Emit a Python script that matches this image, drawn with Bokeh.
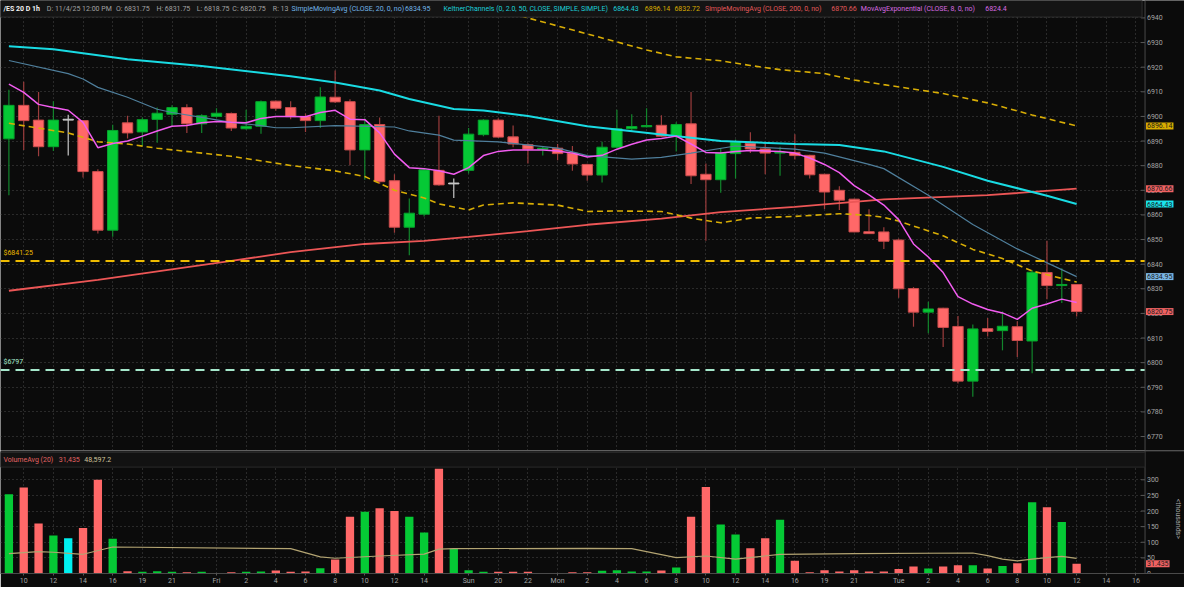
import numpy as np
from bokeh.plotting import figure
from bokeh.layouts import column
from bokeh.models import (ColumnDataSource, FixedTicker, Range1d, Label,
                          BoxAnnotation, Span)
from bokeh.core.properties import value
from bokeh.embed import file_html
from bokeh.resources import INLINE

# ------------------------------------------------------------------ data
tick_bars = [1, 3, 5, 7, 9, 11, 14, 16, 18, 20, 22, 24, 26, 28, 31, 33, 35,
             37, 39, 41, 43, 45, 47, 49, 51, 53, 55, 57, 60, 62, 64, 66, 68,
             70, 72, 74, 76]
tick_labels = ["10", "12", "14", "16", "19", "21", "Fri", "2", "4", "6", "8",
               "10", "12", "14", "Sun", "20", "22", "Mon", "2", "4", "6", "8",
               "10", "12", "14", "16", "19", "21", "Tue", "2", "4", "6", "8",
               "10", "12", "14", "16"]
price_ticks = list(range(6770, 6941, 10))
volume_ticks = [0, 50, 100, 150, 200, 250, 300]

opens = [6890.9, 6904.5, 6898.5, 6887.7, 6898.5, 6898.3, 6877.6, 6853.8, 6897.4, 6893.7,
         6898.8, 6900.9, 6903.6, 6897.0, 6900.0, 6901.2, 6895.0, 6896.0, 6906.2, 6903.6,
         6900.0, 6898.3, 6907.8, 6906.0, 6886.4, 6896.7, 6873.9, 6855.0, 6860.3, 6878.1,
         6872.6, 6878.1, 6892.6, 6898.5, 6891.7, 6888.5, 6886.7, 6887.1, 6885.1, 6880.5,
         6876.2, 6887.5, 6895.0, 6895.8, 6896.4, 6892.0, 6897.0, 6876.5, 6874.3, 6884.9,
         6889.0, 6886.8, 6885.1, 6885.4, 6884.2, 6876.5, 6870.0, 6866.4, 6853.2, 6853.1,
         6849.8, 6830.1, 6820.5, 6822.1, 6814.7, 6792.5, 6813.8, 6813.0, 6814.6, 6808.8,
         6836.6, 6831.3, 6831.75]
highs = [6910.8, 6914.1, 6909.9, 6906.2, 6900.7, 6898.5, 6878.5, 6896.6, 6900.3, 6899.6,
         6903.6, 6904.5, 6904.9, 6900.9, 6903.3, 6901.6, 6902.7, 6906.5, 6906.5, 6906.2,
         6901.2, 6911.8, 6918.7, 6907.0, 6899.2, 6899.6, 6876.5, 6866.7, 6878.8, 6900.3,
         6874.8, 6895.3, 6898.9, 6899.3, 6896.3, 6889.1, 6888.0, 6888.8, 6888.0, 6880.8,
         6889.7, 6902.7, 6900.9, 6903.3, 6900.5, 6897.6, 6909.9, 6880.9, 6887.1, 6890.6,
         6893.6, 6889.3, 6887.7, 6892.8, 6884.4, 6876.7, 6871.6, 6866.6, 6862.3, 6855.0,
         6850.4, 6830.7, 6824.7, 6822.3, 6818.9, 6815.5, 6818.1, 6820.8, 6816.8, 6837.6,
         6849.5, 6838.3, 6831.75]
lows = [6868.0, 6886.4, 6883.8, 6886.0, 6884.1, 6875.2, 6852.5, 6851.1, 6891.0, 6888.0,
        6889.3, 6895.9, 6893.3, 6893.3, 6899.5, 6894.1, 6894.6, 6893.0, 6902.3, 6898.9,
        6893.7, 6895.3, 6905.5, 6880.2, 6874.3, 6872.6, 6852.8, 6843.6, 6859.4, 6871.8,
        6866.9, 6876.8, 6892.0, 6891.2, 6887.5, 6880.9, 6884.1, 6882.2, 6877.9, 6873.9,
        6873.2, 6887.0, 6893.7, 6895.5, 6891.7, 6885.8, 6872.6, 6849.5, 6869.0, 6874.8,
        6885.1, 6876.5, 6875.9, 6882.5, 6874.8, 6862.4, 6862.0, 6853.0, 6852.3, 6846.2,
        6826.4, 6814.6, 6811.9, 6806.4, 6791.5, 6786.2, 6810.6, 6805.0, 6802.3, 6795.7,
        6825.8, 6824.2, 6818.75]
closes = [6904.5, 6898.3, 6887.7, 6898.5, 6898.5, 6877.6, 6853.8, 6894.3, 6893.3, 6898.7,
          6901.3, 6903.6, 6897.0, 6900.3, 6901.3, 6895.3, 6896.0, 6906.0, 6903.3, 6899.9,
          6898.3, 6907.9, 6905.9, 6886.4, 6896.7, 6873.5, 6855.0, 6860.7, 6878.3, 6872.2,
          6872.6, 6892.8, 6898.5, 6891.6, 6888.8, 6886.7, 6887.1, 6884.9, 6880.7, 6876.2,
          6887.5, 6895.0, 6895.9, 6896.3, 6892.0, 6896.7, 6875.9, 6874.3, 6885.1, 6889.4,
          6886.8, 6885.1, 6885.5, 6884.1, 6876.3, 6869.3, 6866.0, 6853.1, 6852.4, 6849.3,
          6830.0, 6820.5, 6821.8, 6814.3, 6792.5, 6813.7, 6812.7, 6814.8, 6809.0, 6836.7,
          6831.3, 6831.75, 6820.75]

volume_k = [254, 275, 160, 122, 113, 146, 300, 111, 7.4, 5.3,
            7.4, 5.3, 4.2, 5.3, 2.0, 4.2, 5.3, 6.4, 9.5, 5.3,
            6.4, 17, 44.5, 182, 198, 209, 200, 182, 131, 335,
            79.5, 10.6, 5.3, 5.3, 5.3, 5.3, 2.0, 2.0, 4.2, 4.2,
            8.5, 10.6, 6.4, 6.4, 9.5, 19, 182, 277, 157, 125,
            80.6, 113, 172, 41, 4.2, 10.6, 6.4, 10.6, 6.4, 6.4,
            14.8, 22.3, 15.9, 22.3, 26.5, 26.5, 15.9, 24.4, 32.9, 228,
            212, 165, 31.435]
volume_dir = ["u", "d", "d", "u", "f", "d", "d", "u", "d", "u",
              "u", "u", "d", "u", "u", "d", "u", "u", "d", "d",
              "d", "u", "d", "d", "u", "d", "d", "u", "u", "d",
              "u", "u", "u", "d", "d", "d", "u", "d", "d", "d",
              "u", "u", "u", "u", "d", "u", "d", "d", "u", "u",
              "d", "d", "u", "d", "d", "d", "d", "d", "d", "d",
              "d", "d", "u", "d", "d", "u", "d", "u", "d", "u",
              "d", "u", "d"]

sma20_bars = [0, 4, 5, 6, 8, 10, 11, 13, 15, 17, 18, 19, 22, 26, 27, 29, 30, 33, 37, 39,
              42, 44, 46, 49, 53, 55, 58, 59, 62, 65, 68, 72]
sma20_vals = [6922.7, 6917.4, 6915.2, 6911.8, 6907.8, 6902.9, 6901.6, 6899.6, 6897.6, 6896.3,
              6895.4, 6895.4, 6896.3, 6895.7, 6894.1, 6892.4, 6890.4, 6889.7, 6887.1, 6884.1,
              6882.7, 6883.4, 6885.1, 6888.0, 6886.7, 6885.1, 6880.5, 6878.8, 6868.0, 6856.1,
              6846.2, 6834.95]
kc_mid_bars = [0, 3, 8, 13, 19, 22, 25, 27, 30, 32, 35, 39, 44, 48, 53, 56, 59, 63, 66, 70, 72]
kc_mid_vals = [6928.5, 6927.3, 6923.2, 6920.5, 6916.3, 6913.8, 6910.5, 6907.1, 6903.0, 6902.4,
               6900.2, 6896.0, 6892.7, 6890.0, 6888.8, 6888.4, 6885.8, 6879.5, 6873.9, 6867.8,
               6864.43]
kc_up_bars = [30, 31, 35, 39, 43, 45, 48, 50, 52, 55, 57, 59, 63, 66, 69, 72]
kc_up_vals = [6949.0, 6947.0, 6940.0, 6933.5, 6927.0, 6924.2, 6922.6, 6920.7, 6919.0, 6917.4,
              6914.8, 6912.9, 6909.3, 6905.5, 6900.6, 6896.14]
kc_lo_bars = [0, 4, 6, 8, 10, 15, 19, 22, 24, 26, 28, 29, 31, 32, 34, 37, 39, 41, 44, 46,
              48, 50, 53, 56, 58, 59, 60, 63, 65, 67, 69, 72]
kc_lo_vals = [6897.2, 6893.3, 6889.7, 6888.8, 6887.1, 6883.8, 6880.1, 6877.9, 6875.6, 6870.0,
              6866.9, 6864.5, 6862.0, 6864.0, 6864.9, 6864.0, 6861.4, 6861.6, 6861.4, 6858.7,
              6856.8, 6858.7, 6859.4, 6860.5, 6859.8, 6859.0, 6857.5, 6851.5, 6846.0, 6842.3,
              6837.2, 6832.72]
sma200_bars = [0, 6, 15, 19, 24, 28, 31, 35, 39, 44, 48, 53, 57, 59, 66, 72]
sma200_vals = [6829.2, 6833.6, 6841.3, 6844.9, 6848.2, 6849.5, 6851.1, 6853.4, 6856.0, 6858.5,
               6861.1, 6863.3, 6865.3, 6866.3, 6868.0, 6870.66]
ema8_vals = [6913.1, 6909.8, 6904.9, 6903.6, 6902.5, 6897.6, 6887.3, 6889.0, 6890.0, 6892.0,
             6894.1, 6896.0, 6896.3, 6897.4, 6897.9, 6897.6, 6897.4, 6899.2, 6900.0, 6900.0,
             6899.9, 6901.6, 6902.5, 6898.9, 6898.7, 6893.3, 6884.7, 6879.2, 6878.8, 6877.9,
             6876.5, 6879.2, 6884.1, 6885.8, 6886.4, 6886.4, 6886.4, 6886.0, 6885.1, 6883.5,
             6884.2, 6886.7, 6888.7, 6890.4, 6891.0, 6892.0, 6888.8, 6885.4, 6885.1, 6885.8,
             6886.2, 6886.0, 6885.8, 6885.1, 6883.1, 6880.5, 6877.2, 6871.9, 6868.1, 6864.0,
             6858.1, 6848.2, 6842.9, 6836.6, 6826.8, 6823.8, 6821.6, 6820.2, 6817.6, 6822.1,
             6823.8, 6825.8, 6824.4]
volavg_bars = [0, 2, 3, 5, 7, 19, 21, 22, 25, 28, 29, 30, 39, 42, 45, 47, 49, 52, 57, 65,
               66, 67, 68, 69, 70, 71, 72]
volavg_vals = [63.6, 70, 68, 61.5, 84.8, 79.5, 53, 48.8, 56, 62, 78, 79.5, 80.6, 79.5, 51, 56,
               46, 61.5, 63.6, 65.7, 57, 46, 40.3, 46, 51, 55, 48.6]

hline_levels = [6841.25, 6797]
hline_names = ["$6841.25", "$6797"]

# ------------------------------------------------------------------ layout helpers
W, MAIN_H, VOL_H = 1184, 450, 137
BG = "#0b0b0b"
GRID = "#4a4a4a"
AX_TXT = "#a4a4a4"
AX_LINE = "#4a4a4a"
FONT = "Roboto"
FS = "7px"

BAR_PX = 15.03          # reference pixels per bar
X0 = -0.566
XR = X0 + 1200 / BAR_PX  # the frame covers the whole width, price scale included


def bx(px):
    return X0 + px / BAR_PX


def py(px):
    return 6840 + (270.7 - px) / 2.528


def vy(px):
    return (591 - px) * 3.125


Y0, Y1 = py(462), py(0)
VMAX = vy(465)
AXIS_X = bx(1160)

UP, DN, FLAT = "#05c935", "#ff6868", "#c8c8c8"
UP_LINE, DN_LINE = "#07a22d", "#c84c4c"
UP_WICK, DN_WICK = "#12862c", "#9c3d3d"


def style_grid(fig, yticks):
    fig.xgrid.ticker = FixedTicker(ticks=tick_bars)
    fig.ygrid.ticker = FixedTicker(ticks=yticks)
    for g in (fig.xgrid, fig.ygrid):
        g.grid_line_color = GRID
        g.grid_line_dash = "1 3"
    # blank the price-scale strip on the right (drawn over the grid, under the glyphs)
    fig.add_layout(BoxAnnotation(left=AXIS_X, right=XR + 1, level="underlay",
                                 fill_color=BG, fill_alpha=1, line_alpha=0))
    fig.add_layout(Span(location=AXIS_X, dimension="height", line_color=AX_LINE,
                        line_width=1))


def scale_labels(fig, ticks, texts):
    fig.segment(x0=[bx(1156)] * len(ticks), x1=[AXIS_X] * len(ticks), y0=ticks, y1=ticks,
                line_color="#5a5a5a", line_width=1)
    fig.text(x=[bx(1162)] * len(ticks), y=ticks, text=texts, text_font=value(FONT),
             text_font_size=value(FS), text_color=AX_TXT, text_baseline="middle",
             text_align="left")


def value_box(fig, y, txt, col):
    fig.add_layout(Label(x=bx(1161), y=y, text=txt, text_font=FONT, text_font_size=FS,
                         text_color="#1a1a1a", text_baseline="middle", text_align="left",
                         background_fill_color=col, background_fill_alpha=1, padding=1))


# ------------------------------------------------------------------ main price panel
p = figure(width=W, height=MAIN_H, x_range=Range1d(X0, XR), y_range=Range1d(Y0, Y1),
           output_backend="svg", toolbar_location=None, x_axis_location=None,
           y_axis_location=None, min_border=0,
           background_fill_color=BG, border_fill_color=BG, outline_line_color=None)
style_grid(p, price_ticks)
scale_labels(p, price_ticks, [str(t) for t in price_ticks])

idx = np.arange(len(opens))
o = np.array(opens)
c = np.array(closes)
body_top = np.maximum(o, c)
body_bot = np.minimum(o, c)
body_top = np.where(body_top - body_bot < 0.35, body_bot + 0.35, body_top)
fill = [UP if cc > oo else (DN if cc < oo else FLAT) for oo, cc in zip(opens, closes)]
edge = [UP_LINE if cc > oo else (DN_LINE if cc < oo else FLAT) for oo, cc in zip(opens, closes)]
wick = [UP_WICK if cc > oo else (DN_WICK if cc < oo else FLAT) for oo, cc in zip(opens, closes)]
src = ColumnDataSource(dict(x=idx, o=opens, h=highs, l=lows, c=closes, top=body_top,
                            bot=body_bot, fill=fill, edge=edge, wick=wick))
p.segment(x0="x", y0="l", x1="x", y1="h", line_color="wick", line_width=1.2, source=src)
p.vbar(x="x", width=0.7, top="top", bottom="bot", fill_color="fill", line_color="edge",
       line_width=1, source=src)

# indicators
p.line(sma200_bars, sma200_vals, line_color="#ec5656", line_width=1.8)
p.line(kc_lo_bars, kc_lo_vals, line_color="#d8ad05", line_width=1.6, line_dash="6 4")
p.line(kc_up_bars, kc_up_vals, line_color="#d8ad05", line_width=1.6, line_dash="6 4")
p.line(kc_mid_bars, kc_mid_vals, line_color="#19dbe3", line_width=2)
p.line(sma20_bars, sma20_vals, line_color="#4f7f9c", line_width=1.2)
p.line(list(idx), ema8_vals, line_color="#f25cf0", line_width=1.5)

hl_colors = ["#eebb00", "#a6e8cc"]
for lvl, name, col, ly in zip(hline_levels, hline_names, hl_colors, [259, 371]):
    p.segment(x0=[X0], x1=[AXIS_X], y0=[lvl], y1=[lvl], line_color=col, line_width=2,
              line_dash="9 6")
    p.add_layout(Label(x=bx(3), y=py(ly), text=name, text_font=FONT, text_font_size=FS,
                       text_color=col, text_baseline="middle", text_align="left"))

# header strip
p.add_layout(BoxAnnotation(left=X0, right=bx(1157), top=py(0), bottom=py(17),
                           fill_color="#141414", fill_alpha=1, line_color="#2e2e2e",
                           line_alpha=1))
sep_px = [43, 113, 154, 195, 231, 272, 291, 406, 445, 618, 650, 680, 711, 838, 869, 994, 1020]
p.segment(x0=[bx(s) for s in sep_px], x1=[bx(s) for s in sep_px],
          y0=[py(1)] * len(sep_px), y1=[py(16)] * len(sep_px), line_color="#3a3a3a")
header = [(3, "/ES 20 D 1h", "#f2f2f2", "bold"),
          (47, "D: 11/4/25 12:00 PM", "#a2a2a2", "normal"),
          (117, "O: 6831.75", "#a2a2a2", "normal"),
          (158, "H: 6831.75", "#a2a2a2", "normal"),
          (199, "L: 6818.75", "#a2a2a2", "normal"),
          (235, "C: 6820.75", "#a2a2a2", "normal"),
          (276, "R: 13", "#a2a2a2", "normal"),
          (295, "SimpleMovingAvg (CLOSE, 20, 0, no)", "#72b4e8", "normal"),
          (410, "6834.95", "#72b4e8", "normal"),
          (449, "KeltnerChannels (0, 2.0, 50, CLOSE, SIMPLE, SIMPLE)", "#1ccfd8", "normal"),
          (621, "6864.43", "#1ccfd8", "normal"),
          (653, "6896.14", "#d6aa00", "normal"),
          (683, "6832.72", "#d6aa00", "normal"),
          (714, "SimpleMovingAvg (CLOSE, 200, 0, no)", "#e2585a", "normal"),
          (842, "6870.66", "#e2585a", "normal"),
          (872, "MovAvgExponential (CLOSE, 8, 0, no)", "#d86ae0", "normal"),
          (998, "6824.4", "#d86ae0", "normal")]
for hx, txt, col, style in header:
    p.add_layout(Label(x=bx(hx), y=py(8.5), text=txt, text_font=FONT, text_font_size=FS,
                       text_color=col, text_font_style=style, text_baseline="middle",
                       text_align="left"))

# value boxes on the price scale
boxes = [(kc_up_vals[-1], "#d9ac00"), (sma200_vals[-1], "#f06262"),
         (kc_mid_vals[-1], "#19e3eb"), (sma20_vals[-1], "#79b6e6"), (closes[-1], "#f06262")]
for val, col in boxes:
    value_box(p, val, f"{val:.2f}", col)

# ------------------------------------------------------------------ volume panel
v = figure(width=W, height=VOL_H, x_range=p.x_range, y_range=Range1d(0, VMAX),
           output_backend="svg", toolbar_location=None, y_axis_location=None,
           min_border=0, min_border_bottom=13,
           background_fill_color=BG, border_fill_color=BG, outline_line_color=None)
style_grid(v, volume_ticks)
scale_labels(v, volume_ticks, [str(t) for t in volume_ticks])

xax = v.xaxis[0]
xax.ticker = FixedTicker(ticks=tick_bars)
xax.major_label_overrides = {b: t for b, t in zip(tick_bars, tick_labels)}
xax.major_label_text_font = FONT
xax.major_label_text_font_size = FS
xax.major_label_text_color = AX_TXT
xax.major_tick_in = 0
xax.major_tick_out = 2
xax.major_tick_line_color = "#5a5a5a"
xax.minor_tick_line_color = None
xax.axis_line_color = AX_LINE
xax.major_label_standoff = 1

vcol_map = {"u": UP, "d": DN, "f": "#00f0f0"}
vsrc = ColumnDataSource(dict(x=idx, top=volume_k, col=[vcol_map[d] for d in volume_dir]))
v.vbar(x="x", width=0.56, top="top", bottom=0, fill_color="col", line_color=None, source=vsrc)
v.line(volavg_bars, volavg_vals, line_color="#b3a472", line_width=1.2)

v.add_layout(Span(location=VMAX, dimension="width", line_color="#3c3c3c", line_width=2))
v.add_layout(BoxAnnotation(left=X0, right=AXIS_X, top=vy(467), bottom=vy(482),
                           fill_color="#121212", fill_alpha=1, line_color="#2a2a2a",
                           line_alpha=1))
vsep = [56, 82, 113]
v.segment(x0=[bx(s) for s in vsep], x1=[bx(s) for s in vsep],
          y0=[vy(468)] * 3, y1=[vy(481)] * 3, line_color="#3a3a3a")
vheader = [(3, "VolumeAvg (20)", "#e26262"), (59, "31,435", "#e26262"),
           (85, "48,597.2", "#cfc29a")]
for hx, txt, col in vheader:
    v.add_layout(Label(x=bx(hx), y=vy(474.5), text=txt, text_font=FONT, text_font_size=FS,
                       text_color=col, text_baseline="middle", text_align="left"))
value_box(v, volume_k[-1], f"{volume_k[-1]:.3f}", "#f06262")
v.add_layout(Label(x=bx(1193), y=vy(535), text="<thousands>", text_font=FONT,
                   text_font_size=FS, text_color=AX_TXT, text_baseline="middle",
                   text_align="center", angle=-np.pi / 2))

layout = column(p, v, spacing=0)
open("out.html", "w").write(file_html(layout, INLINE))
